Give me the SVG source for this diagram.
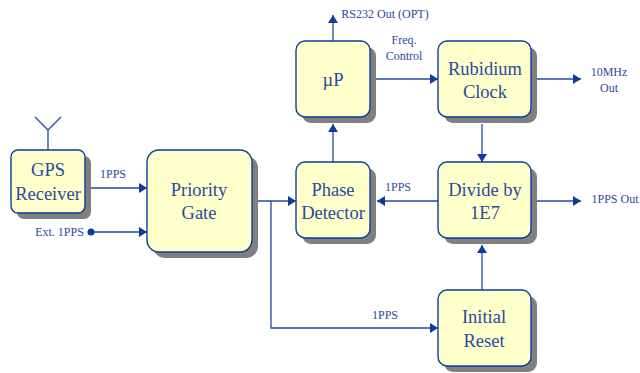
<svg xmlns="http://www.w3.org/2000/svg" width="640" height="373" viewBox="0 0 640 373">
<defs>
<marker id="arrow" markerUnits="userSpaceOnUse" markerWidth="9" markerHeight="10" refX="8" refY="5" orient="auto"><path d="M0,0 L8,5 L0,10 Z" fill="#0d3c9c"/></marker>
</defs>
<style>
.box{fill:#ffffcc;stroke:#0d3c9c;stroke-width:1.4}
.shadow{fill:#808080}
.c{fill:none;stroke:#1f4aa6;stroke-width:1.3}
.a{marker-end:url(#arrow)}
text{font-family:"Liberation Serif","Times New Roman",serif;fill:#2a4a9c;text-anchor:middle}
.n{font-size:18.5px}
.s{font-size:12px}
</style>
<rect width="640" height="373" fill="#ffffff"/>
<g id="connectors">
<path class="c" d="M48,150 V130 M35,117 L48,130 L61,117"/>
<path class="c a" d="M85,188 H147"/>
<path class="c a" d="M91,232 H147"/>
<circle cx="91" cy="232" r="3.5" fill="#0d3c9c"/>
<path class="c a" d="M252,201 H296"/>
<path class="c a" d="M271,201 V328 H438"/>
<path class="c a" d="M333,162 V124"/>
<path class="c a" d="M333,41 V15"/>
<path class="c a" d="M370,79 H438"/>
<path class="c a" d="M531,79 H581"/>
<path class="c a" d="M482,124 V162"/>
<path class="c a" d="M438,201 H377"/>
<path class="c a" d="M531,201 H581"/>
<path class="c a" d="M482,290 V245"/>
</g>
<g id="gps"><rect class="shadow" x="17" y="156" width="74" height="63" rx="7"/><rect class="box" x="11" y="150" width="74" height="63" rx="7"/><text class="n" x="48" y="176">GPS</text><text class="n" x="48" y="200">Receiver</text></g>
<g id="priority"><rect class="shadow" x="153" y="156" width="105" height="102" rx="12"/><rect class="box" x="147" y="150" width="105" height="102" rx="12"/><text class="n" x="199" y="196">Priority</text><text class="n" x="199" y="219">Gate</text></g>
<g id="up"><rect class="shadow" x="302" y="47" width="74" height="76" rx="9"/><rect class="box" x="296" y="41" width="74" height="76" rx="9"/><text class="n" x="333" y="86">µP</text></g>
<g id="rubidium"><rect class="shadow" x="444" y="47" width="93" height="76" rx="9"/><rect class="box" x="438" y="41" width="93" height="76" rx="9"/><text class="n" x="485" y="75">Rubidium</text><text class="n" x="485" y="98">Clock</text></g>
<g id="phase"><rect class="shadow" x="302" y="168" width="74" height="76" rx="9"/><rect class="box" x="296" y="162" width="74" height="76" rx="9"/><text class="n" x="333" y="196">Phase</text><text class="n" x="333" y="219">Detector</text></g>
<g id="divide"><rect class="shadow" x="444" y="168" width="93" height="76" rx="9"/><rect class="box" x="438" y="162" width="93" height="76" rx="9"/><text class="n" x="485" y="196">Divide by</text><text class="n" x="485" y="219">1E7</text></g>
<g id="reset"><rect class="shadow" x="444" y="296" width="93" height="76" rx="9"/><rect class="box" x="438" y="290" width="93" height="76" rx="9"/><text class="n" x="484" y="323">Initial</text><text class="n" x="484" y="347">Reset</text></g>
<g id="labels">
<text class="s" x="113" y="178">1PPS</text>
<text class="s" x="59.5" y="236">Ext. 1PPS</text>
<text class="s" x="385" y="18">RS232 Out (OPT)</text>
<text class="s" x="404" y="44">Freq.</text>
<text class="s" x="404" y="60">Control</text>
<text class="s" x="398" y="191">1PPS</text>
<text class="s" x="385" y="319">1PPS</text>
<text class="s" x="609" y="76">10MHz</text>
<text class="s" x="609" y="92">Out</text>
<text class="s" x="615" y="203">1PPS Out</text>
</g>
</svg>
